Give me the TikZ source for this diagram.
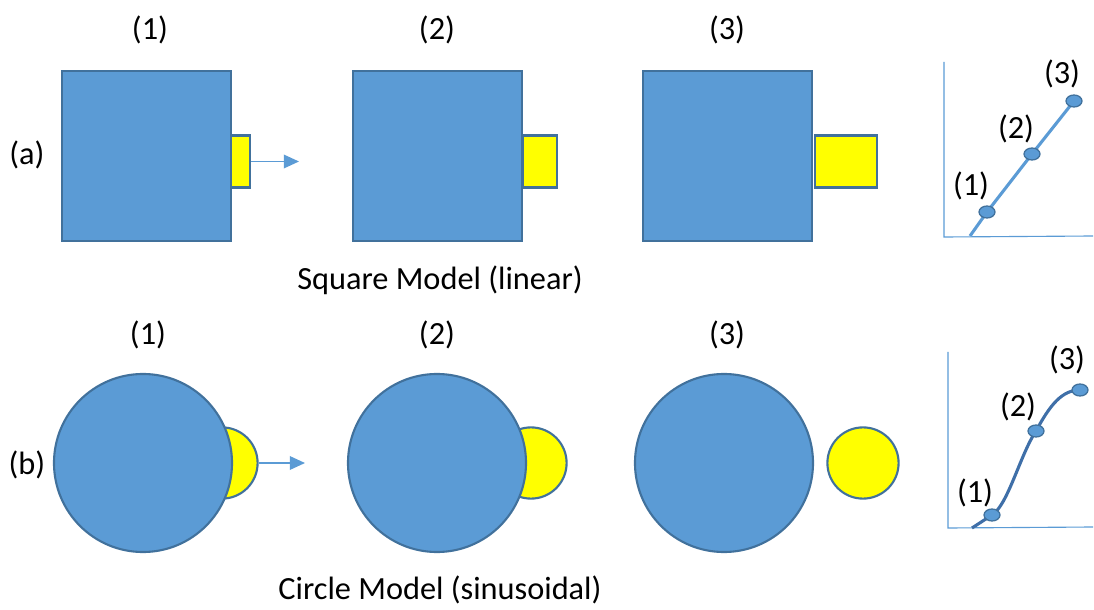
\documentclass[tikz,border=0pt]{standalone}
\usepackage{fontspec}
\setmainfont{Carlito}
\usetikzlibrary{arrows.meta,shapes.geometric}
\definecolor{boxblue}{HTML}{5B9BD5}
\definecolor{edgeblue}{HTML}{41719C}
\definecolor{curveblue}{HTML}{3F6FA8}
\definecolor{hotyellow}{HTML}{FFFF00}
\begin{document}
\begin{tikzpicture}[
  x=0.025cm, y=-0.025cm,
  font=\fontsize{23}{27}\selectfont,
  >={Triangle[length=3.8mm,width=3.4mm]},
  bigbox/.style={rectangle, draw=edgeblue, fill=boxblue, line width=1.5pt,
                 minimum width=4.22cm, minimum height=4.25cm, inner sep=0pt},
  smallbox/.style={rectangle, draw=edgeblue, fill=hotyellow, line width=1.5pt,
                   minimum height=1.3cm, inner sep=0pt},
  bigdisc/.style={circle, draw=edgeblue, fill=boxblue, line width=1.5pt,
                  minimum size=4.45cm, inner sep=0pt},
  smalldisc/.style={circle, draw=edgeblue, fill=hotyellow, line width=1.5pt,
                    minimum size=1.78cm, inner sep=0pt},
  push/.style={->, draw=boxblue, line width=1.1pt},
  axis/.style={draw=boxblue, line width=0.8pt},
  dot/.style={ellipse, draw=edgeblue, fill=boxblue, line width=0.9pt,
              minimum width=0.4cm, minimum height=0.3cm, inner sep=0pt},
  lbl/.style={inner sep=1pt},
]
\useasboundingbox (0,0) rectangle (1094,610);
% Row (a) -- square model
\node[lbl] (ta1) at (150,30) {(1)};
\node[lbl] (ta2) at (437,30) {(2)};
\node[lbl] (ta3) at (727,30) {(3)};
\node[lbl] (rowa) at (27,155) {(a)};
\node[smallbox, minimum width=0.47cm] (ya1) at (240.5,161.5) {};
\node[bigbox] (sq1) at (146.5,156) {};
\node[smallbox, minimum width=0.87cm] (ya2) at (540,161.5) {};
\node[bigbox] (sq2) at (437.5,156) {};
\node[smallbox, minimum width=1.55cm] (ya3) at (846,161.5) {};
\node[bigbox] (sq3) at (727.5,156) {};
\coordinate (pusha) at (299,161.5);
\draw[push] (ya1.east) -- (pusha);
\node[lbl] (capa) at (440,280) {Square Model (linear)};
% Row (b) -- circle model
\node[lbl] (tb1) at (148,335) {(1)};
\node[lbl] (tb2) at (437,335) {(2)};
\node[lbl] (tb3) at (727,335) {(3)};
\node[lbl] (rowb) at (27,465) {(b)};
\node[smalldisc] (yb1) at (222,463) {};
\node[bigdisc] (ci1) at (143,463) {};
\node[smalldisc] (yb2) at (531,463) {};
\node[bigdisc] (ci2) at (437,463) {};
\node[smalldisc] (yb3) at (863,463) {};
\node[bigdisc] (ci3) at (724,463) {};
\coordinate (pushb) at (305,463);
\draw[push] (yb1.east) -- (pushb);
\node[lbl] (capb) at (440,590) {Circle Model (sinusoidal)};
% Graph (a) -- linear
\coordinate (ga0) at (944,237);
\coordinate (gatop) at (944,62);
\coordinate (gaend) at (1093,236);
\draw[axis] (gatop) -- (ga0) -- (gaend);
\coordinate (gas) at (970,236);
\coordinate (ga1) at (987,212);
\coordinate (ga2) at (1032,154);
\coordinate (ga3) at (1074,101);
\draw[draw=boxblue, line width=2.2pt] (gas) -- (ga1) -- (ga2) -- (ga3);
\node[dot] (pa1) at (ga1) {};
\node[dot] (pa2) at (ga2) {};
\node[dot] (pa3) at (ga3) {};
\node[lbl] (la1) at (971,186) {(1)};
\node[lbl] (la2) at (1016,129) {(2)};
\node[lbl] (la3) at (1062,74) {(3)};
% Graph (b) -- sinusoidal
\coordinate (gb0) at (948,528);
\coordinate (gbtop) at (948,352);
\coordinate (gbend) at (1093,527);
\draw[axis] (gbtop) -- (gb0) -- (gbend);
\coordinate (gbs) at (972,528);
\coordinate (gb1) at (992,515);
\coordinate (gb2) at (1036,431);
\coordinate (gb3) at (1080,390);
\draw[draw=curveblue, line width=2.2pt] (gbs) -- (gb1)
  .. controls (1008,505) and (1020,455) .. (gb2)
  .. controls (1050,405) and (1062,390) .. (gb3);
\node[dot] (pb1) at (gb1) {};
\node[dot] (pb2) at (gb2) {};
\node[dot] (pb3) at (gb3) {};
\node[lbl] (lb1) at (975,493) {(1)};
\node[lbl] (lb2) at (1018,407) {(2)};
\node[lbl] (lb3) at (1067,360) {(3)};
\end{tikzpicture}
\end{document}
